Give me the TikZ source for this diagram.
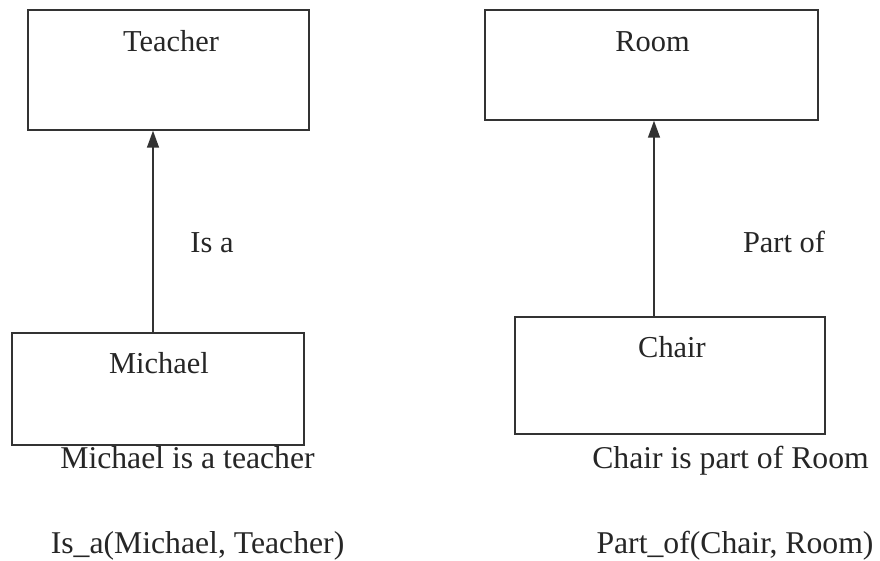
\documentclass[tikz,border=0pt]{standalone}
\usepackage{fontspec}
\setmainfont{Liberation Serif}
\usetikzlibrary{arrows.meta}
\definecolor{ink}{HTML}{262626}
\definecolor{edge}{HTML}{333333}
\begin{document}
\begin{tikzpicture}[x=1pt,y=-1pt,
  box/.style={draw=edge,line width=1.4pt,rectangle,inner sep=0pt},
  boxtext/.style={anchor=base,inner sep=0pt,text=ink,font=\fontsize{30.4}{36}\selectfont},
  reltext/.style={anchor=base,inner sep=0pt,text=ink,font=\fontsize{30.4}{36}\selectfont},
  caption/.style={anchor=base,inner sep=0pt,text=ink,font=\fontsize{31.7}{38}\selectfont},
  arr/.style={draw=edge,line width=1.4pt,-{Triangle[length=17pt,width=12pt]}}]
\useasboundingbox[fill=white] (0,0) rectangle (880,561);

% entity boxes
\node[box,minimum width=281pt,minimum height=120pt] (teacher) at (168.5,70) {};
\node[box,minimum width=292pt,minimum height=112pt] (michael) at (158,389) {};
\node[box,minimum width=333pt,minimum height=110pt] (room) at (651.5,65) {};
\node[box,minimum width=310pt,minimum height=117pt] (chair) at (670,375.5) {};

% box titles
\node[boxtext] (teachert) at (171,52) {Teacher};
\node[boxtext] (michaelt) at (159,373) {Michael};
\node[boxtext] (roomt) at (652.5,52) {Room};
\node[boxtext] (chairt) at (672,357) {Chair};

% relation arrows
\coordinate (isax) at (153,0);
\coordinate (partx) at (654,0);
\draw[arr] (isax |- michael.north) -- (isax |- teacher.south);
\draw[arr] (partx |- chair.north) -- (partx |- room.south);

% relation labels
\node[reltext] (isa) at (212,252) {Is a};
\node[reltext] (partof) at (784,252) {Part of};

% statements below
\node[caption] (s1) at (187.5,468) {Michael is a teacher};
\node[caption] (p1) at (197.5,553) {Is\_a(Michael, Teacher)};
\node[caption] (s2) at (730.5,468) {Chair is part of Room};
\node[caption] (p2) at (735,553) {Part\_of(Chair, Room)};
\end{tikzpicture}
\end{document}
